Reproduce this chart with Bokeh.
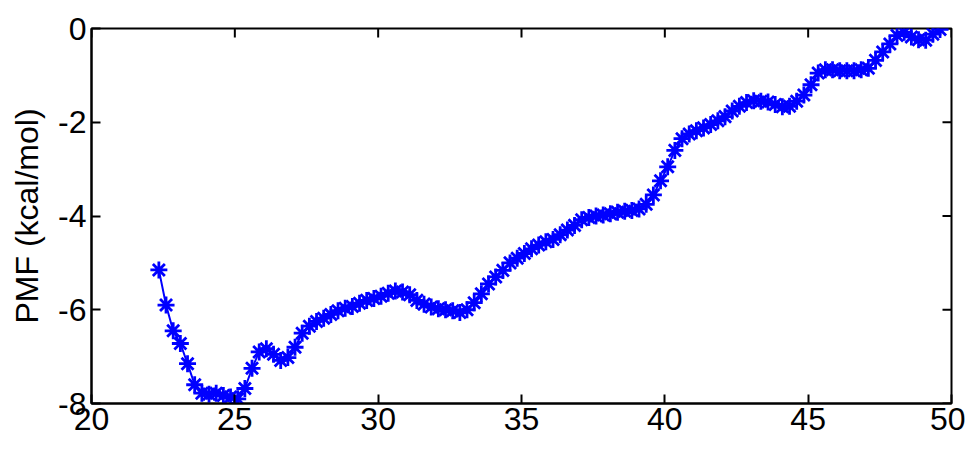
from bokeh.plotting import figure
from bokeh.models import Range1d, FixedTicker, ColumnDataSource
from bokeh.embed import file_html
from bokeh.resources import INLINE

# Data
distance = [22.35, 22.6, 22.85, 23.1, 23.35, 23.6, 23.85, 24.1, 24.35, 24.6,
            24.85, 25.1, 25.35, 25.6, 25.85, 26.1, 26.35, 26.6, 26.85, 27.1,
            27.35, 27.6, 27.85, 28.1, 28.35, 28.6, 28.85, 29.1, 29.35, 29.6,
            29.85, 30.1, 30.35, 30.6, 30.85, 31.1, 31.35, 31.6, 31.85, 32.1,
            32.35, 32.6, 32.85, 33.1, 33.35, 33.6, 33.85, 34.1, 34.35, 34.6,
            34.85, 35.1, 35.35, 35.6, 35.85, 36.1, 36.35, 36.6, 36.85, 37.1,
            37.35, 37.6, 37.85, 38.1, 38.35, 38.6, 38.85, 39.1, 39.35, 39.6,
            39.85, 40.1, 40.35, 40.6, 40.85, 41.1, 41.35, 41.6, 41.85, 42.1,
            42.35, 42.6, 42.85, 43.1, 43.35, 43.6, 43.85, 44.1, 44.35, 44.6,
            44.85, 45.1, 45.35, 45.6, 45.85, 46.1, 46.35, 46.6, 46.85, 47.1,
            47.35, 47.6, 47.85, 48.1, 48.35, 48.6, 48.85, 49.1, 49.35, 49.6]
pmf = [-5.15, -5.9, -6.45, -6.72, -7.15, -7.6, -7.78, -7.8, -7.78, -7.83,
       -7.86, -7.9, -7.68, -7.25, -6.9, -6.83, -6.95, -7.08, -7.02, -6.8,
       -6.5, -6.35, -6.25, -6.18, -6.1, -6.02, -5.97, -5.93, -5.86, -5.8,
       -5.76, -5.71, -5.65, -5.6, -5.62, -5.68, -5.8, -5.88, -5.94, -5.98,
       -6.0, -6.02, -6.06, -6.0, -5.85, -5.66, -5.45, -5.3, -5.16, -5.0,
       -4.9, -4.8, -4.7, -4.62, -4.55, -4.5, -4.4, -4.3, -4.2, -4.08,
       -4.03, -4.0, -3.98, -3.95, -3.92, -3.9, -3.88, -3.85, -3.75, -3.55,
       -3.25, -2.95, -2.6, -2.35, -2.25, -2.18, -2.12, -2.05, -1.97, -1.88,
       -1.76, -1.66, -1.58, -1.54, -1.55, -1.57, -1.62, -1.67, -1.66, -1.55,
       -1.42, -1.2, -0.95, -0.88, -0.88, -0.9, -0.9, -0.9, -0.88, -0.85,
       -0.68, -0.5, -0.33, -0.15, -0.08, -0.18, -0.24, -0.25, -0.12, -0.02]
x_ticks = [20, 25, 30, 35, 40, 45, 50]
y_ticks = [-8, -6, -4, -2, 0]
y_label = "PMF (kcal/mol)"

FONT = "Liberation Sans"
X_MIN, X_MAX = x_ticks[0], x_ticks[-1]
Y_MIN, Y_MAX = y_ticks[0], y_ticks[-1]

src = ColumnDataSource(dict(x=distance, y=pmf))

p = figure(width=965, height=458, output_backend="svg", toolbar_location=None,
           x_range=Range1d(X_MIN, X_MAX), y_range=Range1d(Y_MIN, Y_MAX),
           min_border_left=91, min_border_right=14, min_border_top=28,
           min_border_bottom=55)
p.background_fill_color = "white"
p.border_fill_color = "white"
p.outline_line_color = "black"
p.outline_line_width = 2
p.grid.visible = False

# inward tick marks on the top and right edges of the box (half is clipped)
p.scatter(x=x_ticks, y=[Y_MAX] * len(x_ticks), marker="dash", angle=1.5707963,
          size=18, line_color="black", line_width=2)
p.scatter(x=[X_MAX] * len(y_ticks), y=y_ticks, marker="dash",
          size=18, line_color="black", line_width=2)

p.line("x", "y", source=src, line_color="#0000ff", line_width=2)
p.scatter("x", "y", source=src, marker="asterisk", size=17,
          line_color="#0000ff", line_width=2.8)

for ax in (p.xaxis[0], p.yaxis[0]):
    ax.major_label_text_font = FONT
    ax.major_label_text_font_size = "32px"
    ax.major_label_text_color = "black"
    ax.major_tick_in = 9
    ax.major_tick_out = 0
    ax.minor_tick_line_color = None
    ax.axis_line_color = "black"
    ax.axis_line_width = 2
    ax.major_tick_line_width = 2

p.xaxis[0].ticker = FixedTicker(ticks=x_ticks)
p.yaxis[0].ticker = FixedTicker(ticks=y_ticks)
p.xaxis[0].major_label_overrides = {t: str(t) for t in x_ticks}
p.yaxis[0].major_label_overrides = {t: str(t) for t in y_ticks}
p.xaxis[0].major_label_standoff = 4
p.yaxis[0].major_label_standoff = 5

p.yaxis[0].axis_label = y_label
p.yaxis[0].axis_label_text_font = FONT
p.yaxis[0].axis_label_text_font_size = "32px"
p.yaxis[0].axis_label_text_font_style = "normal"
p.yaxis[0].axis_label_text_color = "black"
p.yaxis[0].axis_label_standoff = 10

open("out.html", "w").write(file_html(p, INLINE))
